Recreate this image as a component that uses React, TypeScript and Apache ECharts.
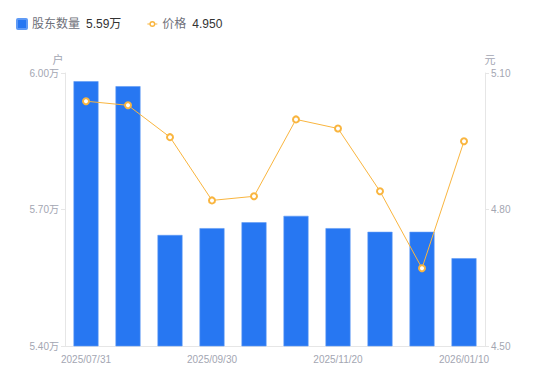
import React, { useEffect, useRef } from "react";
import * as echarts from "echarts";

const categories = [
  "2025/07/31", "2025/08/10", "2025/08/31", "2025/09/30", "2025/10/10",
  "2025/10/31", "2025/11/20", "2025/11/30", "2025/12/31", "2026/01/10",
];
const holders = [5.982, 5.971, 5.644, 5.659, 5.672, 5.686, 5.659, 5.651, 5.651, 5.593];
const prices = [5.038, 5.029, 4.959, 4.82, 4.829, 4.998, 4.978, 4.84, 4.671, 4.95];
const legendValues: Record<string, string> = { "股东数量": "5.59万", "价格": "4.950" };

const squareIcon = "path://M1,0h8a1,1,0,0,1,1,1v8a1,1,0,0,1,-1,1h-8a1,1,0,0,1,-1,-1v-8a1,1,0,0,1,1,-1z";
const lineIcon =
  "path://M0,4.4h2.4v1.2h-2.4z M7.6,4.4h2.4v1.2h-2.4z M5,2 A3,3 0 1 1 5,8 A3,3 0 1 1 5,2z M5,3.4 A1.6,1.6 0 1 0 5,6.6 A1.6,1.6 0 1 0 5,3.4z";

export default function App() {
  const ref = useRef<HTMLDivElement>(null);
  useEffect(() => {
    const chart = echarts.init(ref.current!, null, { renderer: "svg" });
    const font = "'Liberation Sans', 'Noto Sans CJK SC', sans-serif";
    const labelColor = "#a3a6b2";
    const lineColor = "#e6e6e6";
    chart.setOption({
      animation: false,
      textStyle: { fontFamily: font },
      legend: {
        left: 11,
        top: 13,
        itemWidth: 10,
        itemHeight: 10,
        itemGap: 26,
        data: [
          { name: "股东数量", icon: squareIcon },
          { name: "价格", icon: lineIcon, itemStyle: { color: "#f9b53f", borderWidth: 0 } },
        ],
        formatter: (n: string) => `{a|${n}}{b|${legendValues[n]}}`,
        textStyle: {
          rich: {
            a: { color: "#6e7079", fontSize: 12, fontFamily: font },
            b: { color: "#333", fontSize: 12, fontFamily: font, padding: [0, 0, 0, 6] },
          },
        },
      },
      grid: { left: 65, right: 65, top: 73, bottom: 35 },
      xAxis: {
        type: "category",
        data: categories,
        axisLine: { lineStyle: { color: lineColor } },
        axisTick: { show: false },
        axisLabel: { color: labelColor, fontSize: 10, interval: 2, margin: 8, fontFamily: font },
      },
      yAxis: [
        {
          type: "value",
          name: "户",
          min: 5.4,
          max: 6.0,
          interval: 0.3,
          nameGap: 8,
          nameTextStyle: { color: labelColor, fontSize: 11, padding: [0, 14, 0, 0] },
          axisLine: { show: true, lineStyle: { color: lineColor } },
          axisTick: { show: true, length: 4, lineStyle: { color: lineColor } },
          splitLine: { show: false },
          axisLabel: {
            color: labelColor,
            fontSize: 10,
            margin: 6,
            fontFamily: font,
            formatter: (v: number) => v.toFixed(2) + "万",
          },
        },
        {
          type: "value",
          name: "元",
          min: 4.5,
          max: 5.1,
          interval: 0.3,
          nameGap: 8,
          nameTextStyle: { color: labelColor, fontSize: 11, padding: [0, 0, 0, 10] },
          axisLine: { show: true, lineStyle: { color: lineColor } },
          axisTick: { show: true, length: 4, lineStyle: { color: lineColor } },
          splitLine: { show: false },
          axisLabel: {
            color: labelColor,
            fontSize: 10,
            margin: 6,
            fontFamily: font,
            formatter: (v: number) => v.toFixed(2),
          },
        },
      ],
      series: [
        {
          name: "股东数量",
          type: "bar",
          data: holders,
          barWidth: 25,
          itemStyle: { color: "#2777f2", borderColor: "#5f9af5", borderWidth: 0.6 },
        },
        {
          name: "价格",
          type: "line",
          yAxisIndex: 1,
          data: prices,
          symbol: "emptyCircle",
          symbolSize: 6,
          lineStyle: { color: "#f9b53f", width: 1 },
          itemStyle: { color: "#f9b53f", borderWidth: 2 },
        },
      ],
    });
    return () => chart.dispose();
  }, []);
  return <div ref={ref} style={{ width: 550, height: 381, margin: -8 }} />;
}
